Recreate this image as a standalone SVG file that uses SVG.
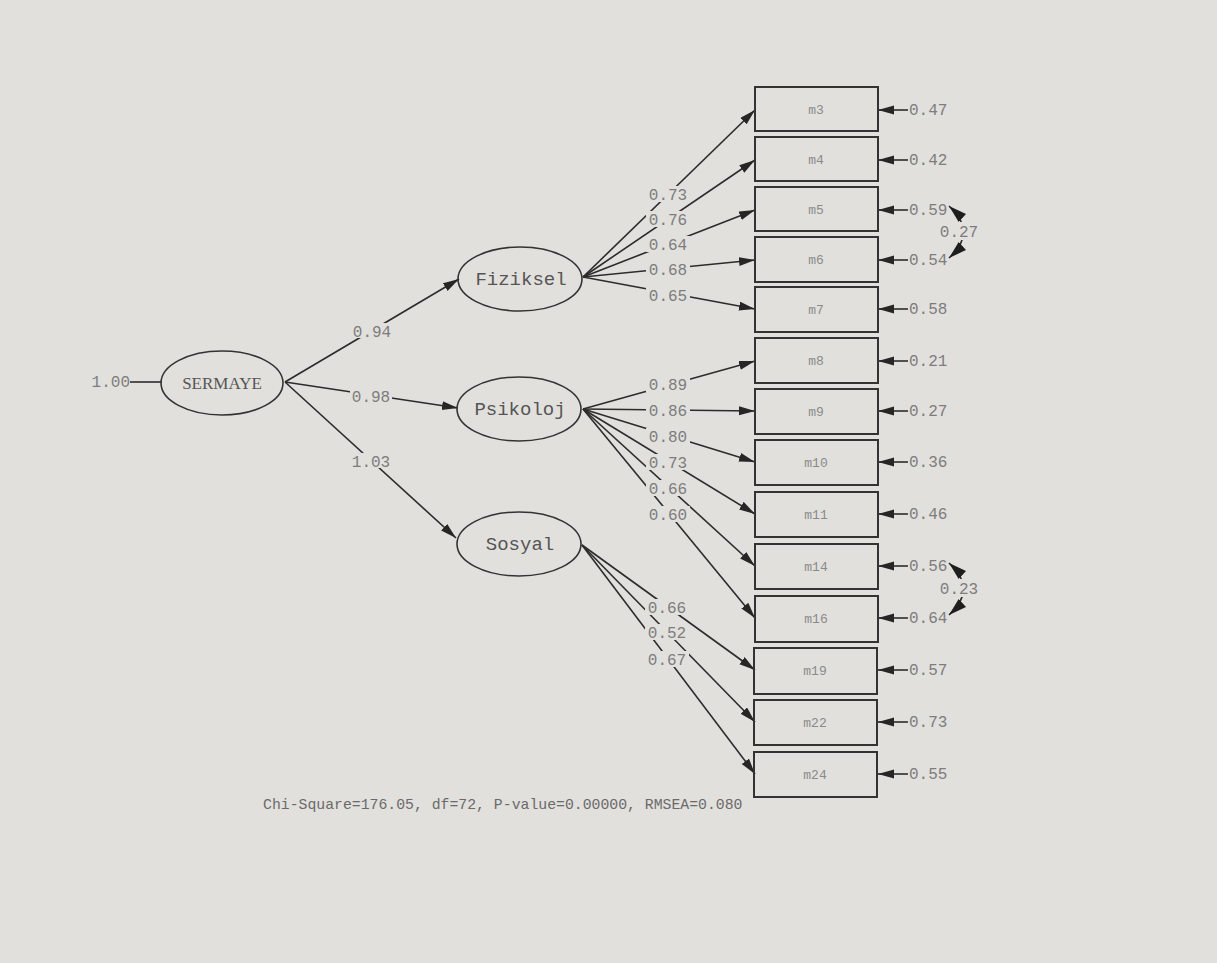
<svg xmlns="http://www.w3.org/2000/svg" width="1217" height="963" viewBox="0 0 1217 963">
  <defs>
    <marker id="ah" markerUnits="userSpaceOnUse" markerWidth="18" markerHeight="10" refX="16" refY="4.5" orient="auto">
      <path d="M0,0 L16,4.5 L0,9 z" fill="#262626"/>
    </marker>
    <marker id="ahc" markerUnits="userSpaceOnUse" markerWidth="20" markerHeight="12" refX="18" refY="5.5" orient="auto-start-reverse">
      <path d="M0,0 L18,5.5 L0,11 z" fill="#1e1e1e"/>
    </marker>
    <style>
      .ln{stroke:#2c2c2c;stroke-width:1.6;fill:none}
      .arr{marker-end:url(#ah)}
      .box{fill:none;stroke:#333;stroke-width:2}
      .ell{fill:none;stroke:#333;stroke-width:1.6}
      .bg{fill:#e2e0dd}
      .num{font-family:"Liberation Mono",monospace;font-size:16px;fill:#7d7d7d}
      .lab{font-family:"Liberation Mono",monospace;font-size:16px;fill:#7d7d7d;text-anchor:middle}
      .obs{font-family:"Liberation Mono",monospace;font-size:13px;fill:#8a8a8a;text-anchor:middle}
      .lat{font-family:"Liberation Mono",monospace;font-size:19px;fill:#555;text-anchor:middle}
      .cor{marker-start:url(#ahc);marker-end:url(#ahc)}
    </style>
  </defs>

  <rect width="1217" height="963" fill="#e2e0dd"/>

  <!-- connectors: paths and loadings -->
  <g id="connectors">
    <!-- SERMAYE fixed variance -->
    <line class="ln" x1="130" y1="382" x2="162" y2="382"/>
    <!-- structural paths -->
    <line class="ln arr" x1="285" y1="382" x2="459" y2="279"/>
    <line class="ln arr" x1="285" y1="382" x2="458" y2="408"/>
    <line class="ln arr" x1="285" y1="382" x2="456" y2="538"/>
    <!-- Fiziksel loadings -->
    <line class="ln arr" x1="583" y1="277" x2="755" y2="110"/>
    <line class="ln arr" x1="583" y1="277" x2="755" y2="160"/>
    <line class="ln arr" x1="583" y1="277" x2="755" y2="210"/>
    <line class="ln arr" x1="583" y1="277" x2="755" y2="260"/>
    <line class="ln arr" x1="583" y1="277" x2="755" y2="309"/>
    <!-- Psikoloj loadings -->
    <line class="ln arr" x1="583" y1="409" x2="755" y2="361"/>
    <line class="ln arr" x1="583" y1="409" x2="755" y2="411"/>
    <line class="ln arr" x1="583" y1="409" x2="755" y2="462"/>
    <line class="ln arr" x1="583" y1="409" x2="755" y2="514"/>
    <line class="ln arr" x1="583" y1="409" x2="755" y2="566"/>
    <line class="ln arr" x1="583" y1="409" x2="755" y2="618"/>
    <!-- Sosyal loadings -->
    <line class="ln arr" x1="582" y1="545" x2="755" y2="670"/>
    <line class="ln arr" x1="582" y1="545" x2="755" y2="722"/>
    <line class="ln arr" x1="582" y1="545" x2="755" y2="774"/>

    <!-- error terms -->
    <line class="ln arr" x1="908" y1="110" x2="878" y2="110"/>
    <line class="ln arr" x1="908" y1="160" x2="878" y2="160"/>
    <line class="ln arr" x1="908" y1="210" x2="878" y2="210"/>
    <line class="ln arr" x1="908" y1="260" x2="878" y2="260"/>
    <line class="ln arr" x1="908" y1="309" x2="878" y2="309"/>
    <line class="ln arr" x1="908" y1="361" x2="878" y2="361"/>
    <line class="ln arr" x1="908" y1="411" x2="878" y2="411"/>
    <line class="ln arr" x1="908" y1="462" x2="878" y2="462"/>
    <line class="ln arr" x1="908" y1="514" x2="878" y2="514"/>
    <line class="ln arr" x1="908" y1="566" x2="878" y2="566"/>
    <line class="ln arr" x1="908" y1="618" x2="878" y2="618"/>
    <line class="ln arr" x1="908" y1="670" x2="878" y2="670"/>
    <line class="ln arr" x1="908" y1="722" x2="878" y2="722"/>
    <line class="ln arr" x1="908" y1="774" x2="878" y2="774"/>

    <!-- error covariances -->
    <path class="ln cor" d="M949,206 Q978,232 949,258"/>
    <path class="ln cor" d="M949,563 Q978,589 949,615"/>

    <!-- label backgrounds break the lines under the numbers -->
    <rect class="bg" x="351" y="323" width="42" height="15"/>
    <rect class="bg" x="350" y="388" width="42" height="15"/>
    <rect class="bg" x="350" y="453" width="42" height="15"/>
    <rect class="bg" x="646" y="186" width="44" height="16"/>
    <rect class="bg" x="646" y="211" width="44" height="16"/>
    <rect class="bg" x="646" y="236" width="44" height="16"/>
    <rect class="bg" x="646" y="261" width="44" height="16"/>
    <rect class="bg" x="646" y="287" width="44" height="16"/>
    <rect class="bg" x="646" y="376" width="44" height="16"/>
    <rect class="bg" x="646" y="402" width="44" height="16"/>
    <rect class="bg" x="646" y="428" width="44" height="16"/>
    <rect class="bg" x="646" y="454" width="44" height="16"/>
    <rect class="bg" x="646" y="480" width="44" height="16"/>
    <rect class="bg" x="646" y="506" width="44" height="16"/>
    <rect class="bg" x="645" y="599" width="44" height="16"/>
    <rect class="bg" x="645" y="624" width="44" height="16"/>
    <rect class="bg" x="645" y="651" width="44" height="16"/>
    <rect class="bg" x="937" y="222" width="44" height="18"/>
    <rect class="bg" x="937" y="579" width="44" height="18"/>

    <!-- labels on paths -->
    <text class="lab" x="130" y="387" style="text-anchor:end">1.00</text>
    <text class="lab" x="372" y="337">0.94</text>
    <text class="lab" x="371" y="402">0.98</text>
    <text class="lab" x="371" y="467">1.03</text>

    <text class="lab" x="668" y="200">0.73</text>
    <text class="lab" x="668" y="225">0.76</text>
    <text class="lab" x="668" y="250">0.64</text>
    <text class="lab" x="668" y="275">0.68</text>
    <text class="lab" x="668" y="301">0.65</text>

    <text class="lab" x="668" y="390">0.89</text>
    <text class="lab" x="668" y="416">0.86</text>
    <text class="lab" x="668" y="442">0.80</text>
    <text class="lab" x="668" y="468">0.73</text>
    <text class="lab" x="668" y="494">0.66</text>
    <text class="lab" x="668" y="520">0.60</text>

    <text class="lab" x="667" y="613">0.66</text>
    <text class="lab" x="667" y="638">0.52</text>
    <text class="lab" x="667" y="665">0.67</text>

    <text class="num" x="909" y="115">0.47</text>
    <text class="num" x="909" y="165">0.42</text>
    <text class="num" x="909" y="215">0.59</text>
    <text class="num" x="909" y="265">0.54</text>
    <text class="num" x="909" y="314">0.58</text>
    <text class="num" x="909" y="366">0.21</text>
    <text class="num" x="909" y="416">0.27</text>
    <text class="num" x="909" y="467">0.36</text>
    <text class="num" x="909" y="519">0.46</text>
    <text class="num" x="909" y="571">0.56</text>
    <text class="num" x="909" y="623">0.64</text>
    <text class="num" x="909" y="675">0.57</text>
    <text class="num" x="909" y="727">0.73</text>
    <text class="num" x="909" y="779">0.55</text>

    <text class="lab" x="959" y="237">0.27</text>
    <text class="lab" x="959" y="594">0.23</text>
  </g>

  <!-- latent variables -->
  <g id="SERMAYE">
    <ellipse class="ell" cx="222" cy="383" rx="61" ry="32"/>
    <text x="222" y="389" text-anchor="middle" font-family="Liberation Serif, serif" font-size="17" fill="#555">SERMAYE</text>
  </g>
  <g id="Fiziksel">
    <ellipse class="ell" cx="520" cy="279" rx="62" ry="32"/>
    <text class="lat" x="521" y="285">Fiziksel</text>
  </g>
  <g id="Psikoloj">
    <ellipse class="ell" cx="519" cy="409" rx="62" ry="32"/>
    <text class="lat" x="520" y="415">Psikoloj</text>
  </g>
  <g id="Sosyal">
    <ellipse class="ell" cx="519" cy="544" rx="62" ry="32"/>
    <text class="lat" x="520" y="550">Sosyal</text>
  </g>

  <!-- observed variables -->
  <g id="m3"><rect class="box" x="755" y="87" width="123" height="44"/><text class="obs" x="816" y="114">m3</text></g>
  <g id="m4"><rect class="box" x="755" y="137" width="123" height="44"/><text class="obs" x="816" y="164">m4</text></g>
  <g id="m5"><rect class="box" x="755" y="187" width="123" height="44"/><text class="obs" x="816" y="214">m5</text></g>
  <g id="m6"><rect class="box" x="755" y="237" width="123" height="45"/><text class="obs" x="816" y="264">m6</text></g>
  <g id="m7"><rect class="box" x="755" y="287" width="123" height="45"/><text class="obs" x="816" y="314">m7</text></g>
  <g id="m8"><rect class="box" x="755" y="338" width="123" height="45"/><text class="obs" x="816" y="365">m8</text></g>
  <g id="m9"><rect class="box" x="755" y="389" width="123" height="45"/><text class="obs" x="816" y="416">m9</text></g>
  <g id="m10"><rect class="box" x="755" y="440" width="123" height="45"/><text class="obs" x="816" y="467">m10</text></g>
  <g id="m11"><rect class="box" x="755" y="492" width="123" height="45"/><text class="obs" x="816" y="519">m11</text></g>
  <g id="m14"><rect class="box" x="755" y="544" width="123" height="45"/><text class="obs" x="816" y="571">m14</text></g>
  <g id="m16"><rect class="box" x="755" y="596" width="123" height="46"/><text class="obs" x="816" y="623">m16</text></g>
  <g id="m19"><rect class="box" x="754" y="648" width="123" height="46"/><text class="obs" x="815" y="675">m19</text></g>
  <g id="m22"><rect class="box" x="754" y="700" width="123" height="45"/><text class="obs" x="815" y="727">m22</text></g>
  <g id="m24"><rect class="box" x="754" y="752" width="123" height="45"/><text class="obs" x="815" y="779">m24</text></g>

  <!-- fit statistics -->
  <text x="263" y="809" font-family="Liberation Mono, monospace" font-size="14.8" fill="#6a6a6a">Chi-Square=176.05, df=72, P-value=0.00000, RMSEA=0.080</text>
</svg>
